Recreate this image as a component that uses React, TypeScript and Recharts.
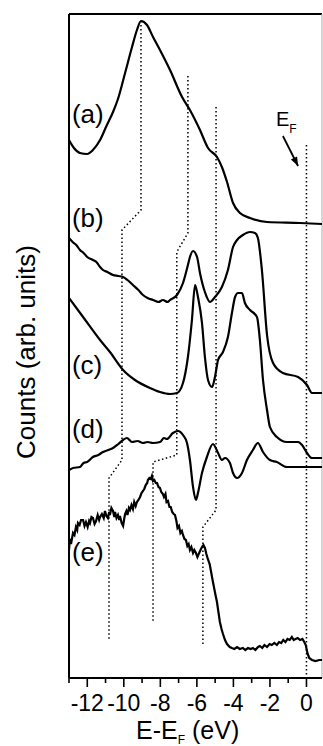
import React from "react";
import { LineChart, Line, XAxis, YAxis, ReferenceLine, ReferenceDot } from "recharts";

// energies in eV relative to E_F, counts in arbitrary units
type Pt = [number, number];

const curveA: Pt[] = [
  [-13, 538], [-12.73, 530], [-12.4, 525], [-12.01, 524], [-11.69, 528], [-11.3, 538],
  [-10.95, 552], [-10.59, 566], [-10.32, 579], [-9.93, 605], [-9.55, 631], [-9.28, 648],
  [-9.06, 657], [-8.73, 653], [-8.4, 641], [-8.02, 628], [-7.47, 608], [-6.81, 581],
  [-6.38, 568], [-5.83, 548], [-5.39, 530], [-4.9, 521], [-4.63, 511], [-4.35, 496],
  [-4.02, 475], [-3.64, 465], [-3.09, 460], [-2.16, 456], [-0.35, 455], [0.85, 454],
];

const curveB: Pt[] = [
  [-13, 440], [-12.8, 436], [-12.6, 433], [-12.4, 428], [-12.2, 425], [-12.0, 421],
  [-11.69, 418], [-11.5, 416], [-11.3, 411], [-11.14, 408], [-10.9, 406], [-10.59, 403],
  [-10.3, 402], [-10.04, 401], [-9.8, 398], [-9.5, 393], [-9.2, 388], [-8.95, 383],
  [-8.7, 380], [-8.4, 378], [-8.1, 376], [-7.86, 378], [-7.6, 376], [-7.47, 378],
  [-7.09, 383], [-6.76, 395], [-6.49, 413], [-6.38, 421], [-6.21, 427], [-5.99, 421],
  [-5.83, 405], [-5.56, 386], [-5.28, 376], [-5.01, 381], [-4.63, 391], [-4.3, 408],
  [-4.02, 431], [-3.8, 438], [-3.48, 443], [-3.09, 446], [-2.82, 445], [-2.66, 440],
  [-2.44, 408], [-2.16, 343], [-1.83, 315], [-1.29, 305], [-0.46, 301], [0.03, 293],
  [0.3, 285], [0.85, 285],
];

const curveC: Pt[] = [
  [-13, 380], [-12.23, 361], [-11.3, 338], [-10.76, 326], [-10.04, 308], [-9.39, 298],
  [-8.57, 290], [-8.02, 286], [-7.47, 284], [-7.09, 285], [-6.76, 295], [-6.49, 321],
  [-6.27, 358], [-6.1, 393], [-5.94, 381], [-5.72, 355], [-5.56, 321], [-5.39, 298],
  [-5.17, 291], [-5.01, 301], [-4.84, 318], [-4.57, 326], [-4.3, 341], [-4.08, 365],
  [-3.91, 381], [-3.75, 385], [-3.53, 385], [-3.37, 375], [-3.09, 368], [-2.71, 361],
  [-2.55, 338], [-2.38, 298], [-2.16, 268], [-2.0, 251], [-1.62, 241], [-1.07, 236],
  [-0.46, 236], [-0.24, 233], [0.03, 225], [0.3, 220], [0.85, 220],
];

const curveD: Pt[] = [
  [-13, 208], [-12.78, 210], [-12.4, 211], [-12.2, 215], [-12.01, 216], [-11.69, 221],
  [-11.4, 223], [-11.14, 226], [-10.85, 228], [-10.59, 230], [-10.3, 234], [-10.04, 238],
  [-9.83, 240], [-9.55, 236], [-9.25, 237], [-8.95, 235], [-8.7, 236], [-8.4, 235],
  [-8.02, 236], [-7.8, 240], [-7.64, 239], [-7.31, 245], [-7.03, 247], [-6.76, 243],
  [-6.54, 235], [-6.38, 218], [-6.21, 191], [-6.05, 178], [-5.94, 185], [-5.72, 205],
  [-5.45, 221], [-5.12, 234], [-4.84, 225], [-4.63, 218], [-4.46, 220], [-4.19, 215],
  [-4.02, 205], [-3.8, 200], [-3.53, 205], [-3.26, 218], [-2.93, 228], [-2.66, 235],
  [-2.38, 226], [-2.0, 218], [-1.62, 216], [-1.07, 211], [0.03, 211], [0.85, 211],
];

const curveE: Pt[] = [
  [-13, 128], [-12.95, 138], [-12.87, 136], [-12.78, 145], [-12.7, 143], [-12.62, 151],
  [-12.55, 148], [-12.51, 155], [-12.42, 153], [-12.34, 158], [-12.23, 158], [-12.15, 152],
  [-12.07, 156], [-11.98, 151], [-11.9, 157], [-11.85, 155], [-11.77, 161], [-11.69, 160],
  [-11.6, 154], [-11.52, 157], [-11.43, 163], [-11.35, 158], [-11.3, 161], [-11.2, 164],
  [-11.1, 160], [-11.03, 167], [-10.95, 162], [-10.87, 160], [-10.8, 166], [-10.76, 163],
  [-10.68, 170], [-10.59, 167], [-10.52, 161], [-10.48, 166], [-10.4, 160], [-10.32, 163],
  [-10.25, 158], [-10.21, 162], [-10.12, 155], [-10.04, 152], [-9.97, 160], [-9.93, 164],
  [-9.86, 167], [-9.8, 163], [-9.72, 170], [-9.66, 168], [-9.58, 173], [-9.5, 169],
  [-9.43, 176], [-9.35, 172], [-9.28, 176], [-9.2, 178], [-9.11, 181], [-9.03, 185],
  [-8.95, 187], [-8.88, 189], [-8.8, 193], [-8.72, 195], [-8.68, 198], [-8.6, 200],
  [-8.52, 199], [-8.46, 202], [-8.4, 197], [-8.33, 198], [-8.25, 195], [-8.18, 195],
  [-8.1, 191], [-8.02, 190], [-7.95, 186], [-7.86, 184], [-7.8, 181], [-7.72, 184],
  [-7.66, 176], [-7.58, 177], [-7.5, 171], [-7.43, 171], [-7.35, 166], [-7.27, 164],
  [-7.2, 163], [-7.12, 157], [-7.06, 150], [-6.98, 152], [-6.9, 145], [-6.82, 147],
  [-6.76, 143], [-6.68, 139], [-6.6, 138], [-6.52, 132], [-6.45, 134], [-6.38, 128],
  [-6.3, 131], [-6.21, 125], [-6.14, 128], [-6.05, 125], [-5.97, 121], [-5.9, 124],
  [-5.8, 128], [-5.72, 131], [-5.64, 133], [-5.56, 130], [-5.48, 124], [-5.4, 119],
  [-5.3, 114], [-5.2, 104], [-5.12, 96], [-4.98, 83], [-4.9, 76], [-4.82, 66],
  [-4.74, 56], [-4.65, 49], [-4.57, 44], [-4.46, 38], [-4.35, 34], [-4.2, 31],
  [-4.08, 30], [-3.95, 29], [-3.8, 31], [-3.65, 29], [-3.48, 30], [-3.35, 28],
  [-3.2, 30], [-3.05, 29], [-2.93, 30], [-2.8, 28], [-2.65, 31], [-2.55, 32],
  [-2.42, 30], [-2.3, 33], [-2.16, 31], [-2.02, 34], [-1.9, 33], [-1.76, 35],
  [-1.62, 33], [-1.5, 36], [-1.38, 35], [-1.27, 38], [-1.15, 36], [-1.04, 39],
  [-0.92, 38], [-0.8, 41], [-0.7, 38], [-0.6, 39], [-0.48, 40], [-0.35, 38],
  [-0.22, 39], [-0.12, 36], [-0.04, 33], [0.05, 25], [0.15, 20], [0.3, 18],
  [0.5, 17], [0.7, 18], [0.85, 18],
];

// dotted guide lines following the peaks between spectra
const guide1: Pt[] = [[-9.06, 657], [-9.06, 468], [-10.1, 448], [-10.1, 218], [-10.81, 200], [-10.81, 38]];
const guide2: Pt[] = [[-6.49, 602], [-6.49, 445], [-7.1, 426], [-7.1, 223], [-8.4, 216], [-8.4, 56]];
const guide3: Pt[] = [[-4.95, 571], [-4.95, 168], [-5.67, 151], [-5.67, 33]];
const fermiLine: Pt[] = [[0, 533], [0, 0]];
const fermiArrow: Pt[] = [[-1.29, 542], [-0.46, 512]];

const curveLabels = ["(a)", "(b)", "(c)", "(d)", "(e)"];
const labelCounts = [555, 451, 304, 240, 117];
const labelEnergy = -12.84;

const majorTicks = [-12, -10, -8, -6, -4, -2, 0];
const minorTicks = [-13, -11, -9, -7, -5, -3, -1];
const allTicks = [...majorTicks, ...minorTicks].sort((a, b) => a - b);

const FONT = "'Liberation Sans', Arial, Helvetica, sans-serif";

const toRows = (pts: Pt[]) => pts.map(([e, c]) => ({ e, c }));

function XTick(props: any) {
  const { x, y, payload } = props;
  const major = majorTicks.includes(payload.value);
  return (
    <g>
      <line x1={x} x2={x} y1={y} y2={y + (major ? 9 : 5)} stroke="#000" strokeWidth={1.6} />
      {major && (
        <text x={x} y={y + 33} textAnchor="middle" fontSize={23} fontFamily={FONT} fill="#000">
          {payload.value}
        </text>
      )}
    </g>
  );
}

function ArrowHead(props: any) {
  const { cx, cy, index, points } = props;
  if (index !== 1 || !points || points.length < 2) return <g key={`ah-${index}`} />;
  const p0 = points[0];
  const ang = (Math.atan2(cy - p0.y, cx - p0.x) * 180) / Math.PI;
  return (
    <g key={`ah-${index}`} transform={`translate(${cx},${cy}) rotate(${ang})`}>
      <polygon points="0,0 -9,-3.5 -9,3.5" fill="#000" />
    </g>
  );
}

export default function App() {
  const spectra = [curveA, curveB, curveC, curveD];
  const guides = [guide1, guide2, guide3, fermiLine];
  return (
    <div style={{ position: "absolute", left: 0, top: 0, width: 323, height: 746, background: "#fff" }}>
      <LineChart width={323} height={746} margin={{ top: 14, right: 1, bottom: 0, left: 69 }}>
        <XAxis
          type="number"
          dataKey="e"
          domain={[-13, 0.85]}
          allowDataOverflow
          ticks={allTicks}
          interval={0}
          tickSize={0}
          tickMargin={0}
          tickLine={false}
          tick={<XTick />}
          axisLine={{ stroke: "#000", strokeWidth: 2 }}
          height={68}
        />
        <YAxis hide type="number" dataKey="c" domain={[0, 664]} allowDataOverflow />
        <ReferenceLine x={-13} stroke="#000" strokeWidth={2} />
        <ReferenceLine y={664} stroke="#000" strokeWidth={2} />
        <ReferenceLine x={0.85} stroke="#aaa" strokeWidth={1} />
        {guides.map((g, i) => (
          <Line
            key={`g${i}`}
            data={toRows(g)}
            dataKey="c"
            type="linear"
            stroke="#000"
            strokeWidth={1.5}
            strokeDasharray="1.5 2.5"
            dot={false}
            isAnimationActive={false}
          />
        ))}
        {spectra.map((s, i) => (
          <Line
            key={`s${i}`}
            data={toRows(s)}
            dataKey="c"
            type="monotone"
            stroke="#000"
            strokeWidth={2.2}
            dot={false}
            isAnimationActive={false}
          />
        ))}
        <Line
          data={toRows(curveE)}
          dataKey="c"
          type="linear"
          stroke="#000"
          strokeWidth={2.2}
          dot={false}
          isAnimationActive={false}
        />
        <Line
          data={toRows(fermiArrow)}
          dataKey="c"
          type="linear"
          stroke="#000"
          strokeWidth={1.8}
          dot={ArrowHead}
          isAnimationActive={false}
        />
        {curveLabels.map((t, i) => (
          <ReferenceDot
            key={t}
            x={labelEnergy}
            y={labelCounts[i]}
            r={0}
            shape={(p: any) => (
              <text x={p.cx} y={p.cy} fontSize={26} fontFamily={FONT} fill="#000">
                {t}
              </text>
            )}
          />
        ))}
      </LineChart>
      <svg
        width={323}
        height={746}
        style={{ position: "absolute", left: 0, top: 0, pointerEvents: "none" }}
      >
        <text transform="translate(35,352) rotate(-90)" textAnchor="middle" fontSize={26} fontFamily={FONT} fill="#000">
          Counts (arb. units)
        </text>
        <text x={136} y={739} fontSize={25} fontFamily={FONT} fill="#000">
          E-E
          <tspan fontSize={12} dy={5}>F</tspan>
          <tspan dy={-5}> (eV)</tspan>
        </text>
        <text x={276} y={126} fontSize={20} fontFamily={FONT} fill="#000">
          E
          <tspan fontSize={12} dy={7}>F</tspan>
        </text>
      </svg>
    </div>
  );
}
